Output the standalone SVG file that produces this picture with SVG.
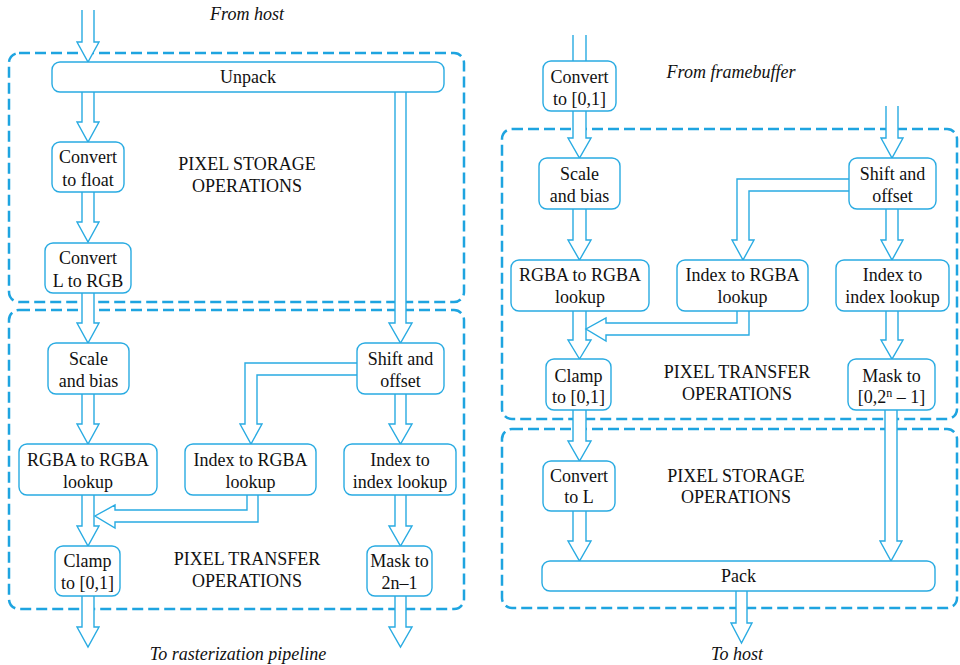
<svg xmlns="http://www.w3.org/2000/svg" width="960" height="665" viewBox="0 0 960 665" font-family="Liberation Serif, DejaVu Serif, serif">
<style>
.grp{fill:none;stroke:#1ea4e0;stroke-width:2.5;stroke-dasharray:11 5}
.node rect{fill:#fff;stroke:#29abe2;stroke-width:1.4}
.arr path{fill:#fff;stroke:#29abe2;stroke-width:1.4;stroke-linejoin:miter}
text{font-size:18px;fill:#111;text-anchor:middle}
.it{font-style:italic}
</style>
<rect width="960" height="665" fill="#fff"/>
<g id="groups">
<rect id="g-left-storage" class="grp" x="9" y="53" width="455" height="249" rx="10"/>
<rect id="g-left-transfer" class="grp" x="9" y="310" width="455" height="299" rx="10"/>
<rect id="g-right-transfer" class="grp" x="502" y="129" width="455" height="290" rx="10"/>
<rect id="g-right-storage" class="grp" x="502" y="429" width="455" height="179" rx="10"/>
</g>
<g id="connectors" class="arr">
<path d="M82,10 V42 H77 L88,62 L99,42 H94 V10"/>
<path d="M82,92 V122 H77 L88,142 L99,122 H94 V92"/>
<path d="M82,192 V222 H77 L88,242 L99,222 H94 V192"/>
<path d="M82,293 V323 H77 L88,343 L99,323 H94 V293"/>
<path d="M82,394 V424 H77 L88,444 L99,424 H94 V394"/>
<path d="M82,495 V526 H77 L88,546 L99,526 H94 V495"/>
<path d="M82,596 V627 H77 L88,647 L99,627 H94 V596"/>
<path d="M395,92 V323 H389 L400.5,343 L412,323 H406 V92"/>
<path d="M395,394 V424 H389 L400.5,444 L412,424 H406 V394"/>
<path d="M395,495 V526 H389 L400.5,546 L412,526 H406 V495"/>
<path d="M395,596 V627 H389 L400.5,647 L412,627 H406 V596"/>
<path d="M357,363 H245 V424 H240 L251,444 L262,424 H257 V375 H357"/>
<path d="M247,495 V510 H115 V505 L95,516 L115,528 V522 H258 V495"/>
<path d="M573,35 V61 M586,35 V61" style="fill:none"/>
<path d="M573,111 V138 H568 L579.5,158 L591,138 H586 V111"/>
<path d="M573,209 V240 H568 L579.5,260 L591,240 H586 V209"/>
<path d="M573,311 V340 H568 L579.5,359 L591,340 H586 V311"/>
<path d="M573,410 V441 H568 L579.5,461 L591,441 H586 V410"/>
<path d="M573,511 V541 H568 L579.5,561 L591,541 H586 V511"/>
<path d="M886,106 V138 H881 L892,158 L903,138 H898 V106"/>
<path d="M886,209 V240 H881 L892,260 L903,240 H898 V209"/>
<path d="M886,311 V340 H881 L892,359 L903,340 H898 V311"/>
<path d="M885,410 V541 H880 L891,561 L902,541 H897 V410"/>
<path d="M736,591 V623 H731 L741.5,643 L752,623 H747 V591"/>
<path d="M849,179 H737 V240 H732 L743,260 L754,240 H749 V191 H849"/>
<path d="M737,311 V323 H606 V318 L586,329 L606,341 V335 H749 V311"/>
</g>
<g id="labels">
<text class="it" x="247" y="20">From host</text>
<text x="247" y="170">PIXEL STORAGE</text>
<text x="247" y="192">OPERATIONS</text>
<text x="247" y="565">PIXEL TRANSFER</text>
<text x="247" y="587">OPERATIONS</text>
<text class="it" x="238" y="660">To rasterization pipeline</text>
<text class="it" x="731" y="78">From framebuffer</text>
<text x="737" y="378">PIXEL TRANSFER</text>
<text x="737" y="400">OPERATIONS</text>
<text x="736" y="482">PIXEL STORAGE</text>
<text x="736" y="503">OPERATIONS</text>
<text class="it" x="737" y="660">To host</text>
</g>
<g id="n-unpack" class="node"><rect x="52" y="62" width="392" height="30" rx="8"/><text x="248" y="83">Unpack</text></g>
<g id="n-convert-float" class="node"><rect x="52" y="142" width="72" height="50" rx="8"/><text x="88" y="163">Convert</text><text x="88" y="186">to float</text></g>
<g id="n-convert-l-rgb" class="node"><rect x="45" y="243" width="86" height="50" rx="8"/><text x="88" y="264">Convert</text><text x="88" y="287">L to RGB</text></g>
<g id="n-l-scale" class="node"><rect x="48" y="343" width="81" height="51" rx="8"/><text x="88.5" y="365">Scale</text><text x="88.5" y="387">and bias</text></g>
<g id="n-l-shift" class="node"><rect x="357" y="343" width="87" height="51" rx="8"/><text x="400.5" y="365">Shift and</text><text x="400.5" y="387">offset</text></g>
<g id="n-l-rgba" class="node"><rect x="19" y="444" width="138" height="51" rx="8"/><text x="88" y="466">RGBA to RGBA</text><text x="88" y="488">lookup</text></g>
<g id="n-l-idxrgba" class="node"><rect x="185" y="444" width="131" height="51" rx="8"/><text x="250.5" y="466">Index to RGBA</text><text x="250.5" y="488">lookup</text></g>
<g id="n-l-idxidx" class="node"><rect x="344" y="444" width="112" height="51" rx="8"/><text x="400" y="466">Index to</text><text x="400" y="488">index lookup</text></g>
<g id="n-l-clamp" class="node"><rect x="55" y="546" width="65" height="50" rx="8"/><text x="87.5" y="567">Clamp</text><text x="87.5" y="589">to [0,1]</text></g>
<g id="n-l-mask" class="node"><rect x="367" y="546" width="65" height="50" rx="8"/><text x="399.5" y="567">Mask to</text><text x="399.5" y="589">2n–1</text></g>
<g id="n-r-convert01" class="node"><rect x="543" y="61" width="73" height="50" rx="8"/><text x="579.5" y="83">Convert</text><text x="579.5" y="105">to [0,1]</text></g>
<g id="n-r-scale" class="node"><rect x="539" y="158" width="81" height="51" rx="8"/><text x="579.5" y="180">Scale</text><text x="579.5" y="202">and bias</text></g>
<g id="n-r-shift" class="node"><rect x="849" y="158" width="87" height="51" rx="8"/><text x="892.5" y="180">Shift and</text><text x="892.5" y="202">offset</text></g>
<g id="n-r-rgba" class="node"><rect x="511" y="260" width="138" height="51" rx="8"/><text x="580" y="281">RGBA to RGBA</text><text x="580" y="303">lookup</text></g>
<g id="n-r-idxrgba" class="node"><rect x="677" y="260" width="131" height="51" rx="8"/><text x="742.5" y="281">Index to RGBA</text><text x="742.5" y="303">lookup</text></g>
<g id="n-r-idxidx" class="node"><rect x="836" y="260" width="113" height="51" rx="8"/><text x="892.5" y="281">Index to</text><text x="892.5" y="303">index lookup</text></g>
<g id="n-r-clamp" class="node"><rect x="546" y="359" width="65" height="51" rx="8"/><text x="578.5" y="382">Clamp</text><text x="578.5" y="403">to [0,1]</text></g>
<g id="n-r-mask" class="node"><rect x="848" y="359" width="87" height="51" rx="8"/><text x="891.5" y="382">Mask to</text><text x="891.5" y="403">[0,2<tspan font-size="12" dy="-6">n</tspan><tspan dy="6"> – 1]</tspan></text></g>
<g id="n-r-convertl" class="node"><rect x="543" y="461" width="72" height="50" rx="8"/><text x="579" y="482">Convert</text><text x="579" y="503">to L</text></g>
<g id="n-r-pack" class="node"><rect x="542" y="561" width="393" height="30" rx="8"/><text x="738.5" y="582">Pack</text></g>
</svg>
